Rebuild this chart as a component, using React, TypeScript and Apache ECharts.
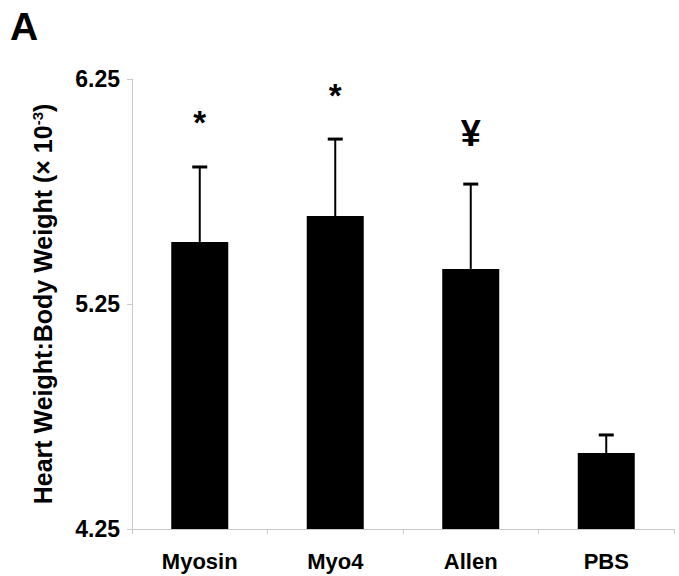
import React, { useEffect, useRef } from "react";
import * as echarts from "echarts";

const categories = ["Myosin", "Myo4", "Allen", "PBS"];
const means = [5.526, 5.641, 5.406, 4.588];
const errors = [0.333, 0.342, 0.377, 0.08];
const marks = ["*", "*", "¥", ""];
const yTicks = [4.25, 5.25, 6.25];
const yBase = 4.25;

const FONT = "Liberation Sans, Arial, Helvetica, sans-serif";

export default function App() {
  const ref = useRef<HTMLDivElement>(null);
  useEffect(() => {
    if (!ref.current) return;
    const chart = echarts.init(ref.current, undefined, { renderer: "svg" });
    const yMin = yTicks[0];
    const yMax = yTicks[yTicks.length - 1];
    const step = yTicks[1] - yTicks[0];
    const barData = means.map((m) => m - yBase);
    const errData = means.map((m, i) => [i, m - yBase, m + errors[i] - yBase]);
    chart.setOption({
      animation: false,
      backgroundColor: "#ffffff",
      textStyle: { fontFamily: FONT },
      title: {
        text: "A",
        left: 5,
        top: 2,
        textStyle: { fontSize: 39, fontWeight: "bold", color: "#000", fontFamily: FONT },
      },
      grid: { left: 132, right: 5, top: 79, bottom: 47 },
      xAxis: {
        type: "category",
        data: categories,
        axisLine: { lineStyle: { color: "#c8c8c8", width: 1 } },
        axisTick: { show: true, length: 5, lineStyle: { color: "#c8c8c8" } },
        axisLabel: {
          margin: 21,
          fontSize: 22,
          fontWeight: "bold",
          color: "#000",
          fontFamily: FONT,
        },
        splitLine: { show: false },
      },
      yAxis: {
        type: "value",
        min: yMin - yBase,
        max: yMax - yBase,
        interval: step,
        axisLine: { show: true, lineStyle: { color: "#c8c8c8", width: 1 } },
        axisTick: { show: true, length: 5, lineStyle: { color: "#c8c8c8" } },
        splitLine: { show: false },
        axisLabel: {
          margin: 12,
          fontSize: 23,
          fontWeight: "bold",
          color: "#000",
          fontFamily: FONT,
          formatter: (v: number) => (v + yBase).toFixed(2),
        },
        name: "Heart Weight:Body Weight (× 10{sup|-3})",
        nameLocation: "middle",
        nameRotate: 90,
        nameGap: 77,
        nameTextStyle: {
          fontSize: 25,
          fontWeight: "bold",
          color: "#000",
          fontFamily: FONT,
          rich: {
            sup: {
              fontSize: 15,
              fontWeight: "bold",
              color: "#000",
              fontFamily: FONT,
              verticalAlign: "top",
              padding: [0, 0, 10, 0],
            },
          },
        },
      },
      series: [
        {
          type: "bar",
          data: barData,
          barWidth: 57,
          itemStyle: { color: "#000" },
          z: 2,
        },
        {
          type: "custom",
          data: errData,
          z: 3,
          renderItem: (params: any, api: any) => {
            const base = api.coord([api.value(0), api.value(1)]);
            const top = api.coord([api.value(0), api.value(2)]);
            const half = 7.5;
            const children: any[] = [
              {
                type: "line",
                shape: { x1: base[0], y1: base[1], x2: base[0], y2: top[1] },
                style: { stroke: "#000", lineWidth: 2 },
              },
              {
                type: "line",
                shape: { x1: base[0] - half, y1: top[1], x2: base[0] + half, y2: top[1] },
                style: { stroke: "#000", lineWidth: 3 },
              },
            ];
            const mark = marks[params.dataIndex];
            if (mark) {
              const isStar = mark === "*";
              children.push({
                type: "text",
                x: base[0],
                y: top[1] - 50 + (isStar ? 6 : -1),
                style: {
                  text: mark,
                  fontSize: isStar ? 33 : 36,
                  fontWeight: "bold",
                  fontFamily: FONT,
                  fill: "#000",
                  align: "center",
                  verticalAlign: "middle",
                },
              });
            }
            return { type: "group", children };
          },
        },
      ],
    });
    return () => chart.dispose();
  }, []);
  return (
    <div
      ref={ref}
      style={{ position: "fixed", left: 0, top: 0, width: 679, height: 576, background: "#fff" }}
    />
  );
}
